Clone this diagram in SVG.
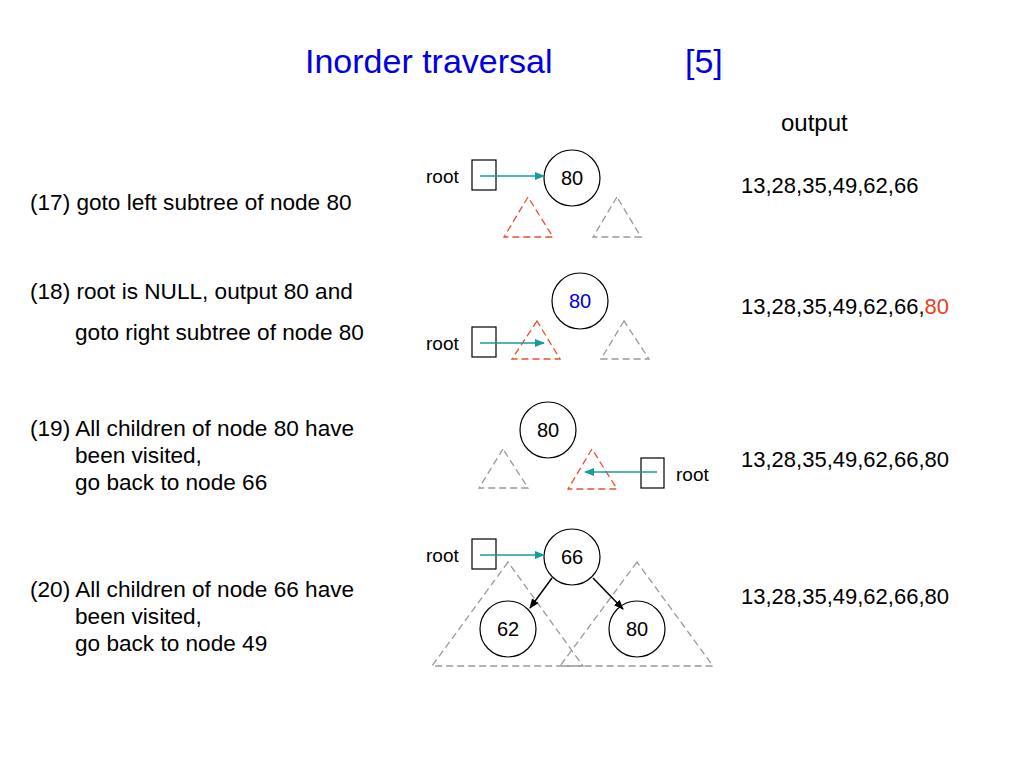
<svg xmlns="http://www.w3.org/2000/svg" width="1024" height="768" viewBox="0 0 1024 768">
<style>
text{font-family:"Liberation Sans",Arial,sans-serif;fill:#000}
.t{font-size:22px}
.s{font-size:22.6px}
.n{font-size:20px;text-anchor:middle}
.r{font-size:19px}
.circ{fill:#fff;stroke:#000;stroke-width:1.2}
.box{fill:none;stroke:#000;stroke-width:1.2}
.red{fill:none;stroke:#e8502e;stroke-width:1.3;stroke-dasharray:7,4}
.gray{fill:none;stroke:#999;stroke-width:1.3;stroke-dasharray:7,4}
.tl{stroke:#169c9c;stroke-width:1.5;fill:none;marker-end:url(#ta)}
.bl{stroke:#000;stroke-width:1.5;fill:none;marker-end:url(#ba)}
</style>
<defs>
<marker id="ta" markerWidth="10" markerHeight="8" refX="9" refY="4" orient="auto" markerUnits="userSpaceOnUse"><path d="M0,0 L10,4 L0,8 z" fill="#169c9c"/></marker>
<marker id="ba" markerWidth="10" markerHeight="8" refX="9" refY="4" orient="auto" markerUnits="userSpaceOnUse"><path d="M0,0 L10,4 L0,8 z" fill="#000"/></marker>
</defs>
<rect width="1024" height="768" fill="#fff"/>
<g id="title">
<text x="305" y="73" style="font-size:34px;fill:#0000e0">Inorder traversal</text>
<text x="685" y="73" style="font-size:34px;fill:#0000e0">[5]</text>
<text x="781" y="131" style="font-size:24px">output</text>
</g>
<g id="steps">
<text class="s" x="30" y="210">(17) goto left subtree of node 80</text>
<text class="s" x="30" y="299">(18) root is NULL, output 80 and</text>
<text class="s" x="75" y="340">goto right subtree of node 80</text>
<text class="s" x="30" y="436">(19) All children of node 80 have</text>
<text class="s" x="75" y="463">been visited,</text>
<text class="s" x="75" y="490">go back to node 66</text>
<text class="s" x="30" y="597">(20) All children of node 66 have</text>
<text class="s" x="75" y="624">been visited,</text>
<text class="s" x="75" y="651">go back to node 49</text>
</g>
<g id="outputs">
<text class="t" x="741" y="193">13,28,35,49,62,66</text>
<text class="t" x="741" y="314">13,28,35,49,62,66,<tspan style="fill:#e8401e">80</tspan></text>
<text class="t" x="741" y="467">13,28,35,49,62,66,80</text>
<text class="t" x="741" y="604">13,28,35,49,62,66,80</text>
</g>
<g id="subtrees">
<polygon class="red" points="528,197 504,237 553,237"/>
<polygon class="gray" points="617,197 593,237 641,237"/>
<polygon class="red" points="537,321 512,359 560,359"/>
<polygon class="gray" points="624,321 601,359 649,359"/>
<polygon class="gray" points="503,449 479,488 528,488"/>
<polygon class="red" points="592,449 568,489 617,489"/>
<polygon class="gray" points="508,562 432,666 583,666"/>
<polygon class="gray" points="637,562 560,666 713,666"/>
</g>
<g id="root1"><text class="r" x="426" y="183">root</text><rect class="box" x="472" y="160" width="24" height="30"/></g>
<g id="node80a"><circle class="circ" cx="572" cy="178" r="28"/><text class="n" x="572" y="185">80</text></g>
<g id="root2"><text class="r" x="426" y="350">root</text><rect class="box" x="472" y="327" width="24" height="30"/></g>
<g id="node80b"><circle class="circ" cx="580" cy="301" r="28"/><text class="n" x="580" y="308" style="fill:#0000e0">80</text></g>
<g id="node80c"><circle class="circ" cx="548" cy="430" r="28"/><text class="n" x="548" y="437">80</text></g>
<g id="root3"><rect class="box" x="641" y="458" width="23" height="30"/><text class="r" x="676" y="481">root</text></g>
<g id="root4"><text class="r" x="426" y="562">root</text><rect class="box" x="472" y="539" width="24" height="30"/></g>
<g id="node66"><circle class="circ" cx="572" cy="557" r="28"/><text class="n" x="572" y="564">66</text></g>
<g id="node62"><circle class="circ" cx="508" cy="629" r="28"/><text class="n" x="508" y="636">62</text></g>
<g id="node80d"><circle class="circ" cx="637" cy="629" r="28"/><text class="n" x="637" y="636">80</text></g>
<g id="connectors">
<line class="tl" x1="480" y1="176" x2="544" y2="176"/>
<line class="tl" x1="480" y1="343" x2="544" y2="343"/>
<line class="tl" x1="657" y1="472" x2="585" y2="472"/>
<line class="tl" x1="480" y1="555" x2="544" y2="555"/>
<line class="bl" x1="552" y1="578" x2="530" y2="608"/>
<line class="bl" x1="593" y1="578" x2="623" y2="609"/>
</g>
</svg>
